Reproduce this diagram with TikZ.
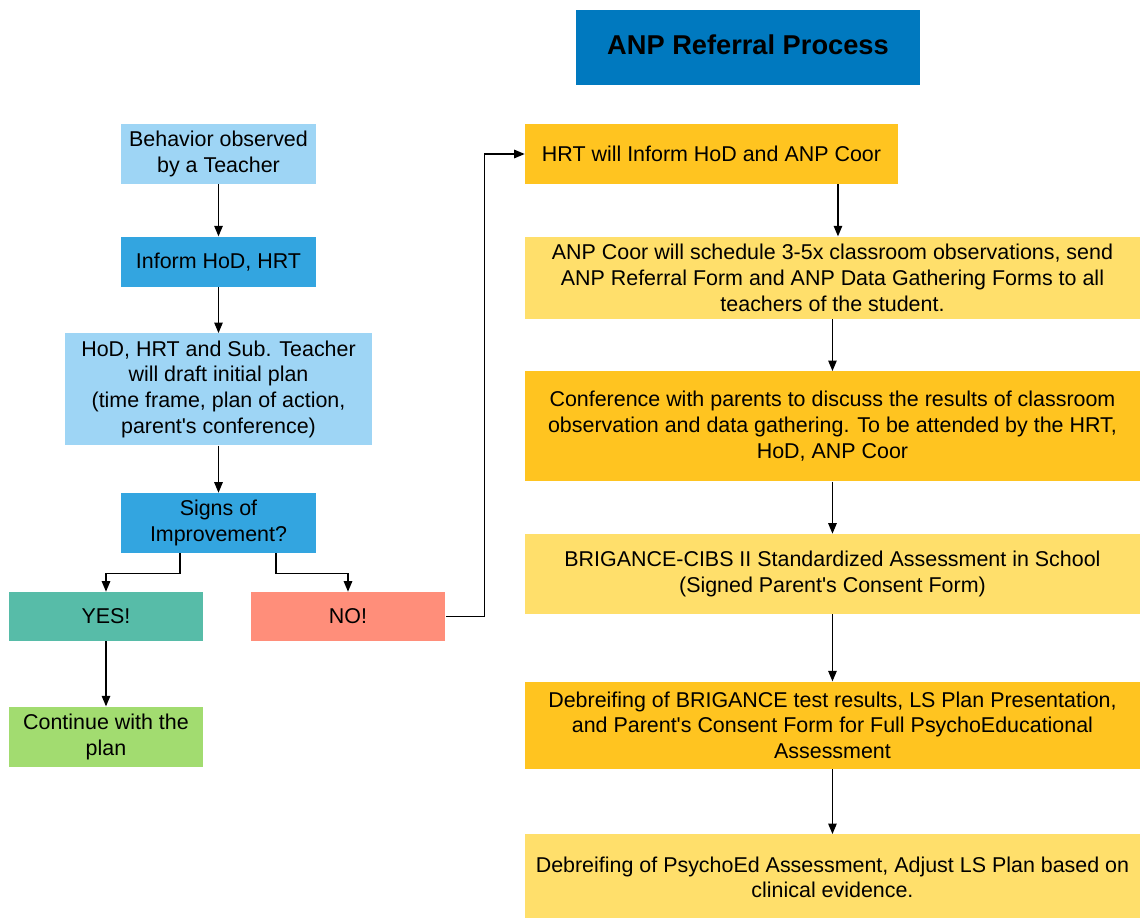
\documentclass[tikz,border=0pt]{standalone}
\usepackage{fontspec}
\setmainfont{Liberation Sans}
\usetikzlibrary{positioning,arrows.meta}

\definecolor{titleblue}{HTML}{0079BF}
\definecolor{paleblue}{HTML}{9ED5F5}
\definecolor{midblue}{HTML}{33A5E0}
\definecolor{yesteal}{HTML}{57BCA8}
\definecolor{nosalmon}{HTML}{FF8E7A}
\definecolor{okgreen}{HTML}{A2DC70}
\definecolor{deeporange}{HTML}{FFC420}
\definecolor{paleyellow}{HTML}{FFDF6B}

\newcommand{\apos}{\textquotesingle}

\tikzset{
  box/.style={rectangle, inner sep=0pt, align=center,
    font=\fontsize{12.2}{14.7}\selectfont},
  leftbox/.style={box, minimum width=3.9cm},
  rightbox/.style={box, minimum width=12.3cm},
  arr/.style={-{Triangle[length=2.1mm,width=1.7mm]}, line width=0.7pt},
}

\begin{document}
\begin{tikzpicture}[x=0.02cm,y=-0.02cm]
   \useasboundingbox (0,0) rectangle (1140,917);
   \node[box, fill=titleblue, minimum width=6.88cm, minimum height=1.5cm,
     font=\fontsize{15.5}{18}\selectfont\bfseries] (title) at (748,47.5) {ANP Referral Process\vphantom{y}};
   % left column
   \node[leftbox, fill=paleblue, minimum height=1.2cm] (behav) at (218.5,154) {Behavior observed\\by a Teacher};
   \node[leftbox, fill=midblue, minimum height=1cm] (inform) [below=1.04cm of behav] {Inform HoD, HRT};
   \node[box, fill=paleblue, minimum width=6.14cm, minimum height=2.24cm] (plan) [below=0.92cm of inform]
     {HoD, HRT and Sub. Teacher\\will draft initial plan\\(time frame, plan of action,\\parent\apos s conference)};
   \node[leftbox, fill=midblue, minimum height=1.2cm] (signs) [below=0.94cm of plan] {Signs of\\Improvement?};
   \node[leftbox, fill=yesteal, minimum height=0.98cm] (yes) at (106,616.5) {YES!};
   \node[leftbox, fill=nosalmon, minimum height=0.98cm] (no) at (348,616.5) {NO!};
   \node[leftbox, fill=okgreen, minimum height=1.2cm] (cont) [below=1.3cm of yes] {Continue with the\\plan};
   % right column
   \node[box, fill=deeporange, minimum width=7.46cm, minimum height=1.2cm] (hrt) at (711.5,154) {HRT will Inform HoD and ANP Coor};
   \node[rightbox, fill=paleyellow, minimum height=1.64cm] (coor) [below=1.04cm of hrt.south west, anchor=north west]
     {ANP Coor will schedule 3-5x classroom observations, send\\ANP Referral Form and ANP Data Gathering Forms to all\\teachers of the student.};
   \node[rightbox, fill=deeporange, minimum height=2.2cm] (conf) [below=1.04cm of coor]
     {Conference with parents to discuss the results of classroom\\observation and data gathering. To be attended by the HRT,\\HoD, ANP Coor};
   \node[rightbox, fill=paleyellow, minimum height=1.6cm] (brig) [below=1.04cm of conf]
     {BRIGANCE-CIBS II Standardized Assessment in School\\(Signed Parent\apos s Consent Form)};
   \node[rightbox, fill=deeporange, minimum height=1.74cm] (debr) [below=1.34cm of brig]
     {Debreifing of BRIGANCE test results, LS Plan Presentation,\\and Parent\apos s Consent Form for Full PsychoEducational\\Assessment};
   \node[rightbox, fill=paleyellow, minimum height=1.72cm] (psy) [below=1.3cm of debr]
     {Debreifing of PsychoEd Assessment, Adjust LS Plan based on\\clinical evidence.};
   % connectors
   \draw[arr] (behav) -- (inform);
   \draw[arr] (inform) -- (plan);
   \draw[arr] (plan) -- (signs);
   \draw[arr] ([xshift=-0.77cm]signs.south) -- ++(0,20) -| (yes.north);
   \draw[arr] ([xshift=1.15cm]signs.south) -- ++(0,20) -| (no.north);
   \draw[arr] (yes) -- (cont);
   \draw[arr] (no.east) -- ++(39,0) |- (hrt.west);
   \draw[arr] ([xshift=2.53cm]hrt.south) -- ([xshift=2.53cm]hrt.south |- coor.north);
   \draw[arr] (coor) -- (conf);
   \draw[arr] (conf) -- (brig);
   \draw[arr] (brig) -- (debr);
   \draw[arr] (debr) -- (psy);
\end{tikzpicture}
\end{document}
